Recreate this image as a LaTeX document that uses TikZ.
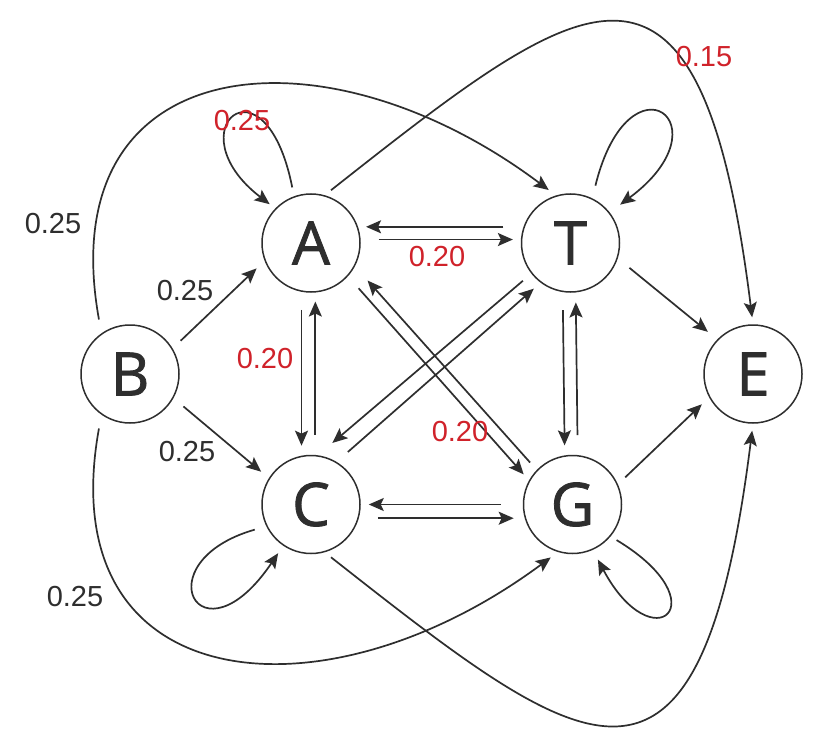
\documentclass[tikz,border=0pt]{standalone}
\usepackage{fontspec}
\setmainfont{Liberation Sans}
\newfontfamily\letterfont[FakeBold=1.3]{Open Sans}
\usepackage{tikz}
\usetikzlibrary{arrows.meta, positioning}
\definecolor{edgegray}{HTML}{2E2E2E}
\definecolor{probred}{HTML}{D0222A}

\begin{document}
\begin{tikzpicture}[
    x=1pt, y=-1pt,
    statenode/.style={draw=edgegray, circle, line width=1.5pt, minimum size=98pt, inner sep=0pt, font=\letterfont\fontsize{60}{60}\selectfont, text=edgegray},
    arr/.style={-{Stealth[length=15pt, width=13pt, inset=3pt]}, line width=1.7pt, draw=edgegray},
    blabel/.style={font=\fontsize{29}{30}\selectfont, text=edgegray, inner sep=0pt},
    rlabel/.style={font=\fontsize{29}{30}\selectfont, text=probred, inner sep=0pt},
]
\useasboundingbox[fill=white] (0,0) rectangle (818,743);

% States
\node[statenode] (A) at (311,243) {A};
\node[statenode, right=160pt of A] (T) {T};
\node[statenode, below=162pt of A] (C) {C};
\node[statenode, right=162pt of C] (G) {G};
\node[statenode] (B) at (130,374) {B};
\node[statenode] (E) at (753,374) {E};

% Start state B
\draw[arr, shorten <=11pt, shorten >=11pt] (B.31) -- (A.201);
\draw[arr, shorten <=13pt, shorten >=10pt] (B.-29) -- (C.148);
\draw[arr, shorten <=14pt, shorten >=9pt] (B.125) .. controls (50,50) and (322,20) .. (T.107);
\draw[arr, shorten <=14pt, shorten >=9pt] (B.235) .. controls (50,697) and (322,727) .. (G.253);

% Pairs between A, T, C, G
\draw[arr, shorten <=20pt, shorten >=8pt] (T.161) -- (A.19);
\draw[arr, shorten <=18pt, shorten >=8pt] (A.4) -- (T.176);
\draw[arr, shorten <=18pt, shorten >=10pt] (A.259) -- (C.101);
\draw[arr, shorten <=20pt, shorten >=9pt] (C.85) -- (A.275);
\draw[arr, shorten <=18pt, shorten >=10pt] (T.261) -- (G.99);
\draw[arr, shorten <=20pt, shorten >=10pt] (G.84) -- (T.276);
\draw[arr, shorten <=22pt, shorten >=8pt] (G.180) -- (C.0);
\draw[arr, shorten <=19pt, shorten >=11pt] (C.-16) -- (G.196);
\draw[arr, shorten <=16pt, shorten >=8pt] (A.-42) -- (G.151);
\draw[arr, shorten <=10pt, shorten >=19pt] (G.136) -- (A.-28);
\draw[arr, shorten <=11pt, shorten >=19pt] (T.218) -- (C.82);
\draw[arr, shorten <=15pt, shorten >=9pt] (C.59) -- (T.233);

% Into end state E
\draw[arr, shorten <=15pt, shorten >=12pt] (T.-18) -- (E.136);
\draw[arr, shorten <=10pt, shorten >=10pt] (G.24) -- (E.208);
\draw[arr, shorten <=8pt, shorten >=7pt] (A.74) .. controls (585,-10) and (700,-100) .. (E.90);
\draw[arr, shorten <=8pt, shorten >=7pt] (C.-74) .. controls (585,757) and (700,847) .. (E.270);

% Self loops
\draw[arr, shorten <=9pt, shorten >=7pt] (A.110) .. controls (265,50) and (173,130) .. (A.136);
\draw[arr, shorten <=13pt, shorten >=13pt] (T.64) .. controls (629,49) and (729,124) .. (T.38);
\draw[arr, shorten <=12pt, shorten >=9pt] (C.206) .. controls (142,562) and (200,669) .. (C.236);
\draw[arr, shorten <=7pt, shorten >=11pt] (G.-40) .. controls (721,603) and (653,663) .. (G.-66);

% Weights
\node[blabel] (wBT) at (53,224) {0.25};
\node[blabel] (wBA) at (185,291) {0.25};
\node[blabel] (wBC) at (187,452) {0.25};
\node[blabel] (wBG) at (75,597) {0.25};
\node[rlabel] (wAA) at (242,121) {0.25};
\node[rlabel] (wAT) at (437,257) {0.20};
\node[rlabel] (wAC) at (265,359) {0.20};
\node[rlabel] (wAG) at (460,432) {0.20};
\node[rlabel] (wAE) at (704,57) {0.15};
\end{tikzpicture}
\end{document}
